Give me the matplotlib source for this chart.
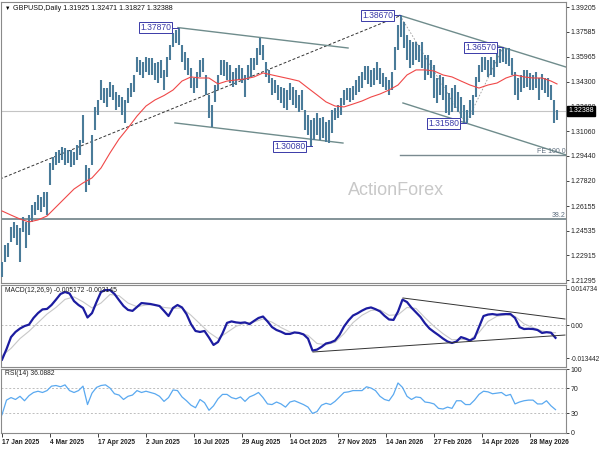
import matplotlib
matplotlib.use("Agg")
import matplotlib.pyplot as plt
import numpy as np

plt.rcParams["font.family"] = ["Liberation Sans", "DejaVu Sans"]

# daily GBPUSD bars, one bar kept every 2 trading days (bar index 0..370)
bar_high = [
    1.2248, 1.2359, 1.2373, 1.2478, 1.2511, 1.2491, 1.2471, 1.2543, 1.2511, 1.2556,
    1.2622, 1.2642, 1.2688, 1.2675, 1.2707, 1.2707, 1.2898, 1.2937, 1.2970, 1.2983,
    1.3003, 1.2997, 1.2983, 1.2983, 1.2970, 1.3016, 1.3049, 1.3213, 1.2885, 1.2865,
    1.3082, 1.3266, 1.3312, 1.3443, 1.3390, 1.3390, 1.3430, 1.3410, 1.3364, 1.3345,
    1.3331, 1.3312, 1.3390, 1.3423, 1.3476, 1.3594, 1.3574, 1.3561, 1.3594, 1.3588,
    1.3588, 1.3555, 1.3561, 1.3574, 1.3509, 1.3594, 1.3673, 1.3752, 1.3772, 1.3787,
    1.3673, 1.3627, 1.3588, 1.3522, 1.3456, 1.3496, 1.3574, 1.3588, 1.3476, 1.3345,
    1.3279, 1.3410, 1.3476, 1.3574, 1.3574, 1.3561, 1.3541, 1.3496, 1.3522, 1.3541,
    1.3522, 1.3476, 1.3541, 1.3588, 1.3588, 1.3653, 1.3719, 1.3673, 1.3561, 1.3509,
    1.3456, 1.3443, 1.3410, 1.3397, 1.3390, 1.3377, 1.3423, 1.3397, 1.3377, 1.3345,
    1.3377, 1.3246, 1.3213, 1.3180, 1.3193, 1.3226, 1.3193, 1.3200, 1.3167, 1.3180,
    1.3246, 1.3259, 1.3279, 1.3325, 1.3377, 1.3390, 1.3390, 1.3404, 1.3443, 1.3469,
    1.3496, 1.3535, 1.3535, 1.3509, 1.3522, 1.3561, 1.3522, 1.3489, 1.3463, 1.3443,
    1.3496, 1.3660, 1.3804, 1.3867, 1.3824, 1.3739, 1.3706, 1.3693, 1.3693, 1.3673,
    1.3693, 1.3607, 1.3607, 1.3574, 1.3541, 1.3456, 1.3476, 1.3463, 1.3410, 1.3358,
    1.3390, 1.3410, 1.3364, 1.3331, 1.3279, 1.3246, 1.3312, 1.3345, 1.3463, 1.3541,
    1.3594, 1.3594, 1.3574, 1.3594, 1.3574, 1.3627, 1.3648, 1.3657, 1.3653, 1.3653,
    1.3588, 1.3496, 1.3456, 1.3476, 1.3509, 1.3509, 1.3489, 1.3476, 1.3496, 1.3456,
    1.3482, 1.3456, 1.3456, 1.3410, 1.3312, 1.3247,
]
bar_low = [
    1.2149, 1.2248, 1.2281, 1.2379, 1.2405, 1.2359, 1.2248, 1.2445, 1.2340, 1.2425,
    1.2511, 1.2556, 1.2589, 1.2576, 1.2609, 1.2556, 1.2753, 1.2852, 1.2885, 1.2898,
    1.2918, 1.2885, 1.2898, 1.2872, 1.2885, 1.2918, 1.2951, 1.3029, 1.2708, 1.2753,
    1.2885, 1.3115, 1.3213, 1.3312, 1.3292, 1.3266, 1.3331, 1.3312, 1.3246, 1.3266,
    1.3213, 1.3161, 1.3292, 1.3331, 1.3364, 1.3496, 1.3476, 1.3456, 1.3496, 1.3476,
    1.3476, 1.3443, 1.3423, 1.3456, 1.3377, 1.3463, 1.3574, 1.3660, 1.3686, 1.3673,
    1.3561, 1.3509, 1.3476, 1.3390, 1.3358, 1.3390, 1.3463, 1.3496, 1.3345, 1.3193,
    1.3134, 1.3299, 1.3377, 1.3476, 1.3469, 1.3443, 1.3423, 1.3397, 1.3410, 1.3443,
    1.3423, 1.3331, 1.3443, 1.3463, 1.3509, 1.3541, 1.3607, 1.3574, 1.3463, 1.3423,
    1.3345, 1.3358, 1.3312, 1.3292, 1.3259, 1.3246, 1.3312, 1.3279, 1.3259, 1.3233,
    1.3246, 1.3115, 1.3082, 1.3008, 1.3049, 1.3082, 1.3049, 1.3062, 1.3036, 1.3029,
    1.3095, 1.3180, 1.3193, 1.3213, 1.3279, 1.3312, 1.3299, 1.3312, 1.3345, 1.3364,
    1.3390, 1.3443, 1.3417, 1.3397, 1.3410, 1.3443, 1.3417, 1.3397, 1.3377, 1.3345,
    1.3377, 1.3509, 1.3640, 1.3726, 1.3653, 1.3574, 1.3522, 1.3541, 1.3574, 1.3561,
    1.3522, 1.3443, 1.3476, 1.3456, 1.3325, 1.3292, 1.3345, 1.3312, 1.3226, 1.3213,
    1.3233, 1.3259, 1.3233, 1.3193, 1.3161, 1.3158, 1.3193, 1.3213, 1.3331, 1.3430,
    1.3496, 1.3509, 1.3463, 1.3476, 1.3463, 1.3528, 1.3555, 1.3561, 1.3548, 1.3535,
    1.3476, 1.3345, 1.3312, 1.3364, 1.3390, 1.3397, 1.3377, 1.3377, 1.3390, 1.3312,
    1.3377, 1.3358, 1.3331, 1.3312, 1.3161, 1.3183,
]
bar_idx = np.arange(0, 2 * len(bar_high), 2)

# moving average (red), every 6 bars plus the last bar
sma_idx = list(range(0, 367, 6)) + [370]
sma_val = [
    1.2583, 1.2556, 1.2530, 1.2511, 1.2524, 1.2550, 1.2609, 1.2668, 1.2727, 1.2767,
    1.2800, 1.2865, 1.2964, 1.3055, 1.3128, 1.3206, 1.3272, 1.3312, 1.3341, 1.3377,
    1.3436, 1.3463, 1.3456, 1.3456, 1.3417, 1.3436, 1.3443, 1.3450, 1.3463, 1.3489,
    1.3476, 1.3463, 1.3450, 1.3436, 1.3390, 1.3345, 1.3299, 1.3272, 1.3266, 1.3285,
    1.3305, 1.3331, 1.3351, 1.3377, 1.3410, 1.3476, 1.3509, 1.3509, 1.3502, 1.3476,
    1.3463, 1.3436, 1.3410, 1.3390, 1.3410, 1.3423, 1.3456, 1.3476, 1.3463, 1.3456,
    1.3456, 1.3436, 1.3417,
]

# MACD(12,26,9) main line, every 3 bars
osc_idx = np.arange(0, 370, 3)
macd_val = [
    -0.0141, -0.0098, -0.0049, -0.0028, -0.0014, -0.0004, 0.0002, 0.0029, 0.0049, 0.0064,
    0.0066, 0.0082, 0.0104, 0.0127, 0.0135, 0.0129, 0.0098, 0.0082, 0.0070, 0.0031,
    0.0049, 0.0094, 0.0135, 0.0143, 0.0143, 0.0127, 0.0102, 0.0078, 0.0062, 0.0058,
    0.0074, 0.0090, 0.0088, 0.0086, 0.0082, 0.0078, 0.0058, 0.0037, 0.0070, 0.0082,
    0.0072, 0.0045, 0.0004, -0.0024, -0.0028, -0.0024, -0.0051, -0.0081, -0.0069, -0.0034,
    0.0009, 0.0015, 0.0011, 0.0009, 0.0011, 0.0004, 0.0017, 0.0029, 0.0035, 0.0015,
    -0.0008, -0.0020, -0.0027, -0.0036, -0.0036, -0.0030, -0.0032, -0.0038, -0.0055, -0.0104,
    -0.0100, -0.0089, -0.0075, -0.0071, -0.0063, -0.0040, -0.0006, 0.0019, 0.0039, 0.0048,
    0.0059, 0.0068, 0.0072, 0.0065, 0.0056, 0.0038, 0.0023, 0.0021, 0.0055, 0.0104,
    0.0094, 0.0071, 0.0052, 0.0033, 0.0007, -0.0014, -0.0028, -0.0041, -0.0055, -0.0067,
    -0.0073, -0.0067, -0.0049, -0.0055, -0.0063, -0.0053, -0.0008, 0.0037, 0.0043, 0.0045,
    0.0042, 0.0044, 0.0045, 0.0045, 0.0029, -0.0008, -0.0016, -0.0015, -0.0016, -0.0020,
    -0.0032, -0.0029, -0.0031, -0.0052,
]
sig_idx = list(range(0, 367, 6)) + [369]
signal_val = [
    -0.0125, -0.0095, -0.0055, -0.0025, 0.0010, 0.0045, 0.0072, 0.0105, 0.0115, 0.0095,
    0.0070, 0.0090, 0.0125, 0.0120, 0.0090, 0.0075, 0.0082, 0.0084, 0.0072, 0.0068,
    0.0070, 0.0040, 0.0005, -0.0030, -0.0055, -0.0030, -0.0005, 0.0008, 0.0013, 0.0025,
    0.0012, -0.0010, -0.0028, -0.0032, -0.0042, -0.0075, -0.0080, -0.0070, -0.0035, 0.0010,
    0.0040, 0.0060, 0.0062, 0.0040, 0.0042, 0.0072, 0.0068, 0.0030, -0.0005, -0.0035,
    -0.0060, -0.0058, -0.0060, -0.0030, 0.0015, 0.0036, 0.0042, 0.0036, 0.0005, -0.0010,
    -0.0024, -0.0030, -0.0031,
]

# RSI(14), every 3 bars
rsi_val = [
    28, 51, 55, 52, 57, 50, 58, 63, 65, 63,
    66, 73, 74, 72, 75, 66, 63, 66, 73, 44,
    62, 71, 74, 75, 70, 61, 59, 52, 57, 59,
    66, 63, 65, 63, 61, 57, 49, 55, 67, 66,
    56, 50, 43, 39, 52, 47, 35, 42, 53, 60,
    60, 55, 53, 56, 49, 56, 59, 63, 55, 45,
    44, 48, 45, 40, 48, 50, 47, 44, 40, 30,
    33, 43, 46, 44, 49, 56, 63, 64, 66, 66,
    66, 72, 70, 66, 57, 52, 50, 60, 78, 71,
    57, 52, 56, 55, 48, 47, 45, 38, 37, 40,
    38, 50, 50, 44, 44, 51, 60, 65, 64, 61,
    62, 63, 58, 60, 45, 48, 50, 51, 51, 45,
    45, 50, 42, 36,
]

price_ticks = [1.39205, 1.37585, 1.35965, 1.34300, 1.32680, 1.31060, 1.29440,
               1.27820, 1.26155, 1.24535, 1.22915, 1.21295]
date_labels = ["17 Jan 2025", "4 Mar 2025", "17 Apr 2025", "2 Jun 2025", "16 Jul 2025",
               "29 Aug 2025", "14 Oct 2025", "27 Nov 2025", "14 Jan 2026", "27 Feb 2026",
               "14 Apr 2026", "28 May 2026"]
date_pos = [0, 32, 64, 96, 128, 160, 192, 224, 256, 288, 320, 352]

last_price = 1.32388
swing_points = [(117.3, 1.3787, "1.37870"), (265.3, 1.3867, "1.38670"),
                (334.0, 1.3657, "1.36570"), (309.3, 1.3158, "1.31580"),
                (206.7, 1.3008, "1.30080")]
fe_level = 1.2948
retr_level = 1.2529

W, H = 600, 450
BAR_C = "#4a7b99"
CHAN_C = "#6f8c8c"
LBL_C = "#3a3aa8"
SPINE_C = "#8a8a8a"


def rect(top, bottom, left=1, right=566):
    return [left / W, 1 - bottom / H, (right - left) / W, (bottom - top) / H]


fig = plt.figure(figsize=(6, 4.5), dpi=100)
ax_p = fig.add_axes(rect(2, 283))
ax_m = fig.add_axes(rect(285, 367))
ax_r = fig.add_axes(rect(369, 432.5))

for ax in (ax_p, ax_m, ax_r):
    ax.set_xlim(-0.67, 376)
    ax.yaxis.tick_right()
    ax.tick_params(axis="y", direction="out", length=2.2, width=0.6, pad=1.2,
                   labelsize=5, colors="#222222")
    ax.tick_params(axis="x", length=0, labelbottom=False)
    for s in ax.spines.values():
        s.set_color(SPINE_C)
        s.set_linewidth(0.8)

# ---- price panel
ax_p.set_ylim(1.2110, 1.3955)
ax_p.set_yticks(price_ticks)
ax_p.set_yticklabels([f"{t:.5f}" for t in price_ticks])
ax_p.axhline(last_price, color="#c4c4c4", lw=0.8, zorder=1)
ax_p.axhline(retr_level, color="#7a8a90", lw=1.3, zorder=1)
ax_p.plot([265.3, 376], [fe_level, fe_level], color="#7a8a90", lw=1.0, zorder=1)
ax_p.text(375.5, fe_level + 0.0004, "FE 100.0", ha="right", va="bottom",
          fontsize=5, color="#607080")
ax_p.text(375.5, retr_level + 0.0004, "38.2", ha="right", va="bottom",
          fontsize=5, color="#607080")
ax_p.text(0.70, 0.33, "ActionForex", transform=ax_p.transAxes, ha="center",
          va="center", fontsize=13, color="#c8c8c8", zorder=0)

ax_p.vlines(bar_idx, bar_low, bar_high, color=BAR_C, lw=1.5, zorder=3)
ax_p.plot(sma_idx, sma_val, color="#f04848", lw=0.8, zorder=4)

# trend lines and channels
ax_p.plot([-1.33, 266], [1.2793, 1.3867], color="#333333", lw=0.7,
          ls=(0, (3, 2)), zorder=2)
ax_p.plot([117.3, 230.7], [1.3787, 1.3653], color=CHAN_C, lw=1.0, zorder=2)
ax_p.plot([115.3, 227.3], [1.3161, 1.3029], color=CHAN_C, lw=1.0, zorder=2)
ax_p.plot([265.3, 376], [1.3867, 1.3528], color=CHAN_C, lw=1.0, zorder=2)
ax_p.plot([267.3, 376], [1.3292, 1.2951], color=CHAN_C, lw=1.0, zorder=2)
ax_p.plot([265.3, 309.3, 334.0], [1.3867, 1.3158, 1.3657], color="#9a9a9a",
          lw=0.6, ls=(0, (2, 2)), zorder=2)

for xi, yi, txt in swing_points:
    ax_p.plot([xi - 4.5, xi], [yi, yi], color=LBL_C, lw=0.7, zorder=5)
    ax_p.text(xi - 4.5, yi, txt, ha="right", va="center", fontsize=6.2,
              color=LBL_C, zorder=6,
              bbox=dict(boxstyle="square,pad=0.12", fc="white", ec=LBL_C, lw=0.7))

fig.text(5 / W, 1 - 8 / H, "\u25bc", fontsize=4, va="center", color="black")
fig.text(13 / W, 1 - 8 / H, "GBPUSD,Daily 1.31925 1.32471 1.31827 1.32388",
         fontsize=5.1, va="center", color="#111111")
fig.text(568 / W, 1 - 111 / H, f"{last_price:.5f}", fontsize=5, va="center",
         color="white", zorder=10,
         bbox=dict(boxstyle="square,pad=0.15", fc="black", ec="black"))

# ---- MACD panel
ax_m.set_ylim(-0.01710, 0.01636)
ax_m.set_yticks([0.014734, 0.0, -0.013442])
ax_m.set_yticklabels(["0.014734", "0.00", "-0.013442"])
ax_m.tick_params(axis="y", labelsize=4.7, pad=1.0)
ax_m.axhline(0, color="#bdbdbd", lw=0.7, ls=(0, (2, 2)))
ax_m.plot(sig_idx, signal_val, color="#c8c8c8", lw=0.8)
ax_m.plot(osc_idx, macd_val, color="#1c1ca0", lw=1.6)
ax_m.plot([267.3, 375.3], [0.01106, 0.00249], color="#333333", lw=0.7)
ax_m.plot([207.3, 375.3], [-0.01098, -0.00406], color="#333333", lw=0.7)
ax_m.text(4 / 565, 0.93, "MACD(12,26,9) -0.005172 -0.003145", transform=ax_m.transAxes,
          fontsize=4.9, va="center", color="#222222")

# ---- RSI panel
ax_r.set_ylim(0, 100)
ax_r.set_yticks([100, 70, 30, 0])
ax_r.set_yticklabels(["100", "70", "30", "0"])
ax_r.axhline(70, color="#bdbdbd", lw=0.7, ls=(0, (2, 2)))
ax_r.axhline(30, color="#bdbdbd", lw=0.7, ls=(0, (2, 2)))
ax_r.plot(osc_idx, rsi_val, color="#5aa9f0", lw=0.9)
ax_r.text(4 / 565, 0.93, "RSI(14) 36.0882", transform=ax_r.transAxes,
          fontsize=4.9, va="center", color="#222222")

ax_r.set_xticks(date_pos)
ax_r.set_xticklabels(date_labels, ha="left", fontweight="bold")
ax_r.tick_params(axis="x", length=3, width=0.6, pad=1.5, labelsize=4.8,
                 labelbottom=True, colors="#222222")

fig.savefig("out.png", dpi=100)
